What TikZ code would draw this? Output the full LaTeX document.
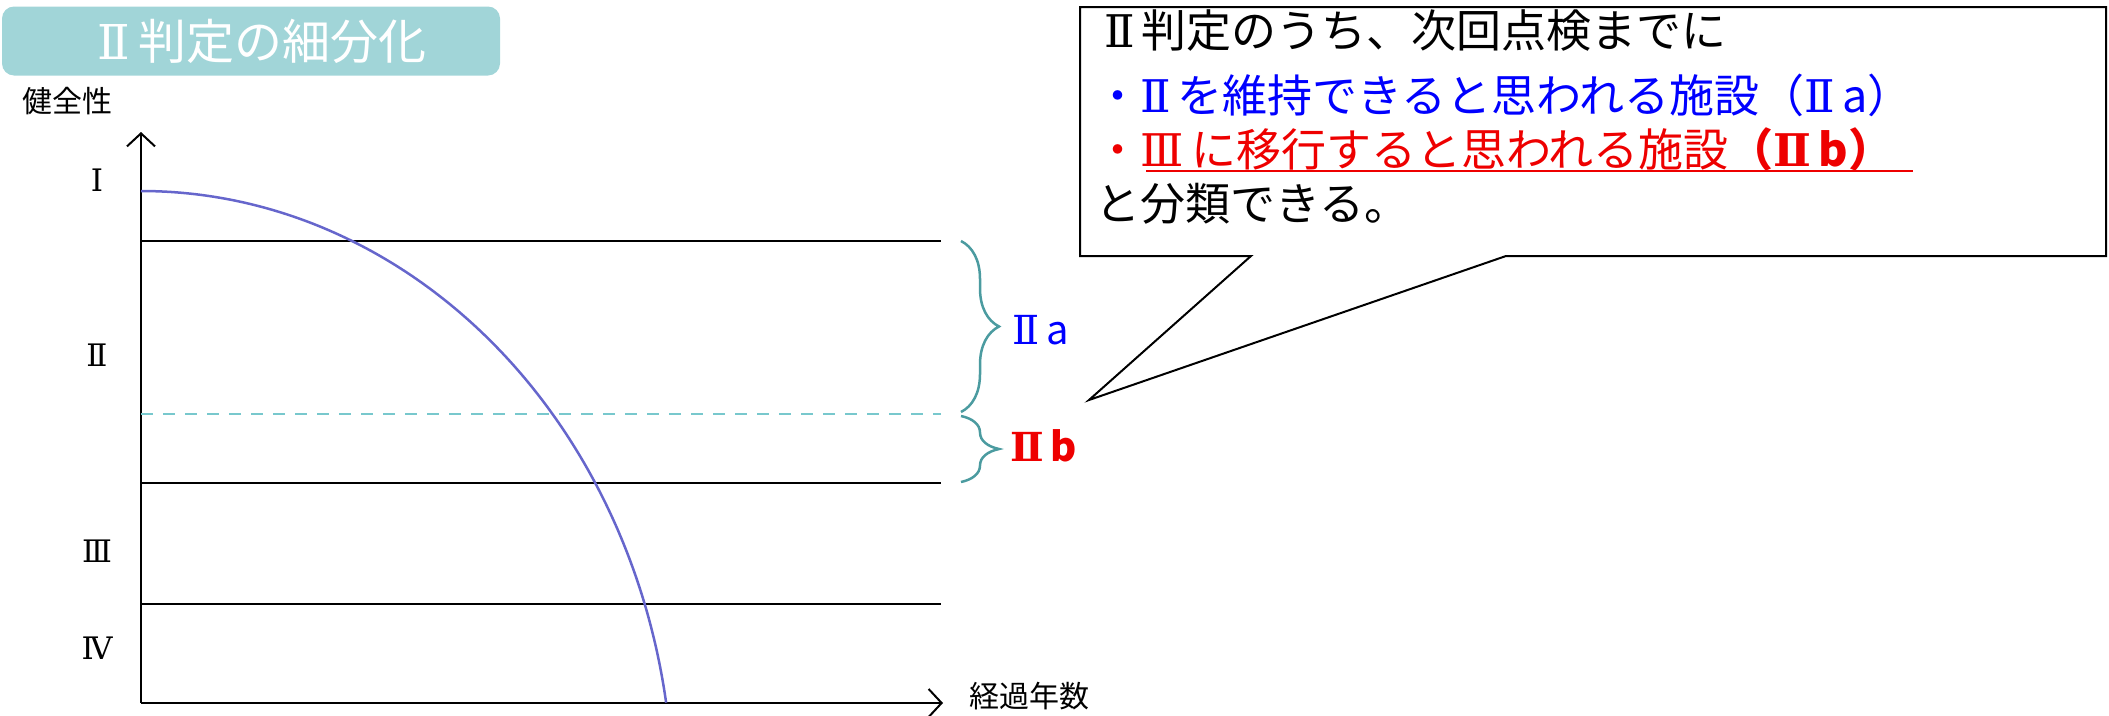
\documentclass[tikz,border=0pt]{standalone}
\usepackage{fontspec}
\setmainfont{Noto Sans CJK JP}
\newfontfamily\serifnum{DejaVu Serif}
\newcommand{\RN}[1]{{\serifnum #1}}
\usetikzlibrary{arrows.meta,decorations.pathreplacing}
\definecolor{titlebg}{RGB}{161,213,216}
\definecolor{braceteal}{RGB}{75,155,160}
\definecolor{dashteal}{RGB}{120,200,205}
\definecolor{curveblue}{RGB}{102,102,204}
\definecolor{txtblue}{RGB}{0,0,255}
\definecolor{txtred}{RGB}{238,0,0}
\tikzset{
  axisline/.style={line width=2pt,-{Straight Barb[length=13pt,width=28pt,line width=2pt]}},
  levelline/.style={line width=2pt},
  lvl/.style={font=\serifnum\fontsize{31}{36}\selectfont,inner sep=0pt},
  smalltxt/.style={font=\fontsize{30}{36}\selectfont,inner sep=0pt},
  calltxt/.style={font=\fontsize{45}{52}\selectfont,inner sep=0pt,anchor=west},
  bracestyle/.style={braceteal,line width=2.5pt,decorate,decoration={brace,amplitude=38pt}},
}
\begin{document}
\begin{tikzpicture}[x=1pt,y=-1pt]
\useasboundingbox (0,0) rectangle (2109,715);
% title
\node[fill=titlebg,rounded corners=12pt,minimum width=498pt,minimum height=69pt,inner sep=0pt] (titlebox) at (251,41) {};
\node[text=white,font=\fontsize{48}{56}\selectfont,inner sep=0pt] (title) at (262,41) {\RN{Ⅱ}\,判定の細分化};
\node[smalltxt] (health) at (67,101) {健全性};
\node[smalltxt] (years) at (1029,696) {経過年数};
% axes
\coordinate (O) at (141,703);
\coordinate (ytop) at (141,132);
\coordinate (xend) at (943,703);
\draw[axisline] (O) -- (ytop);
\draw[axisline] (O) -- (xend);
% level lines
\coordinate (l1a) at (141,241); \coordinate (l1b) at (941,241);
\coordinate (l2a) at (141,483); \coordinate (l2b) at (941,483);
\coordinate (l3a) at (141,604); \coordinate (l3b) at (941,604);
\coordinate (dla) at (141,414); \coordinate (dlb) at (941,414);
\draw[levelline] (l1a) -- (l1b);
\draw[levelline] (l2a) -- (l2b);
\draw[levelline] (l3a) -- (l3b);
\draw[dashteal,line width=2pt,dash pattern=on 12pt off 10pt] (dla) -- (dlb);
% level labels
\node[lvl] (L1) at (97,180) {Ⅰ};
\node[lvl] (L2) at (97,355) {Ⅱ};
\node[lvl] (L3) at (97,551) {Ⅲ};
\node[lvl] (L4) at (97,648) {Ⅳ};
% curve
\draw[curveblue,line width=2.5pt] plot[domain=0:80.8,samples=80,smooth] ({141+532*sin(\x)},{800-609*cos(\x)});
% braces
\coordinate (b1t) at (961,241); \coordinate (b1b) at (961,412);
\coordinate (b2t) at (961,416); \coordinate (b2b) at (961,482);
\draw[bracestyle] (b1t) -- (b1b);
\draw[bracestyle] (b2t) -- (b2b);
\node[font=\fontsize{40}{48}\selectfont,text=txtblue,inner sep=0pt,anchor=west] (IIa) at (1012,330) {\RN{Ⅱ}\,a};
\node[font=\fontsize{40}{48}\selectfont\bfseries,text=txtred,inner sep=0pt,anchor=west] (IIb) at (1010,446) {\RN{Ⅱ}\,b};
% callout
\draw[line width=2pt,fill=white] (1080,7) -- (2106,7) -- (2106,256) -- (1506,256) -- (1089,400) -- (1251,256) -- (1080,256) -- cycle;
\node[calltxt] (c1) at (1104,31) {\RN{Ⅱ}\hspace{0.15em}判定のうち、次回点検までに};
\node[calltxt,text=txtblue] (c2) at (1095,95) {・\RN{Ⅱ}\hspace{0.15em}を維持できると思われる施設（\RN{Ⅱ}\,a）};
\node[calltxt,text=txtred] (c3) at (1095,149) {・\RN{Ⅲ}\,に移行すると思われる施設\textbf{（\RN{Ⅱ}\hspace{0.15em}b）}};
\node[calltxt] (c4) at (1095,204) {と分類できる。};
\coordinate (ul1) at (1146,171); \coordinate (ul2) at (1913,171);
\draw[txtred,line width=2.5pt] (ul1) -- (ul2);
\end{tikzpicture}
\end{document}
